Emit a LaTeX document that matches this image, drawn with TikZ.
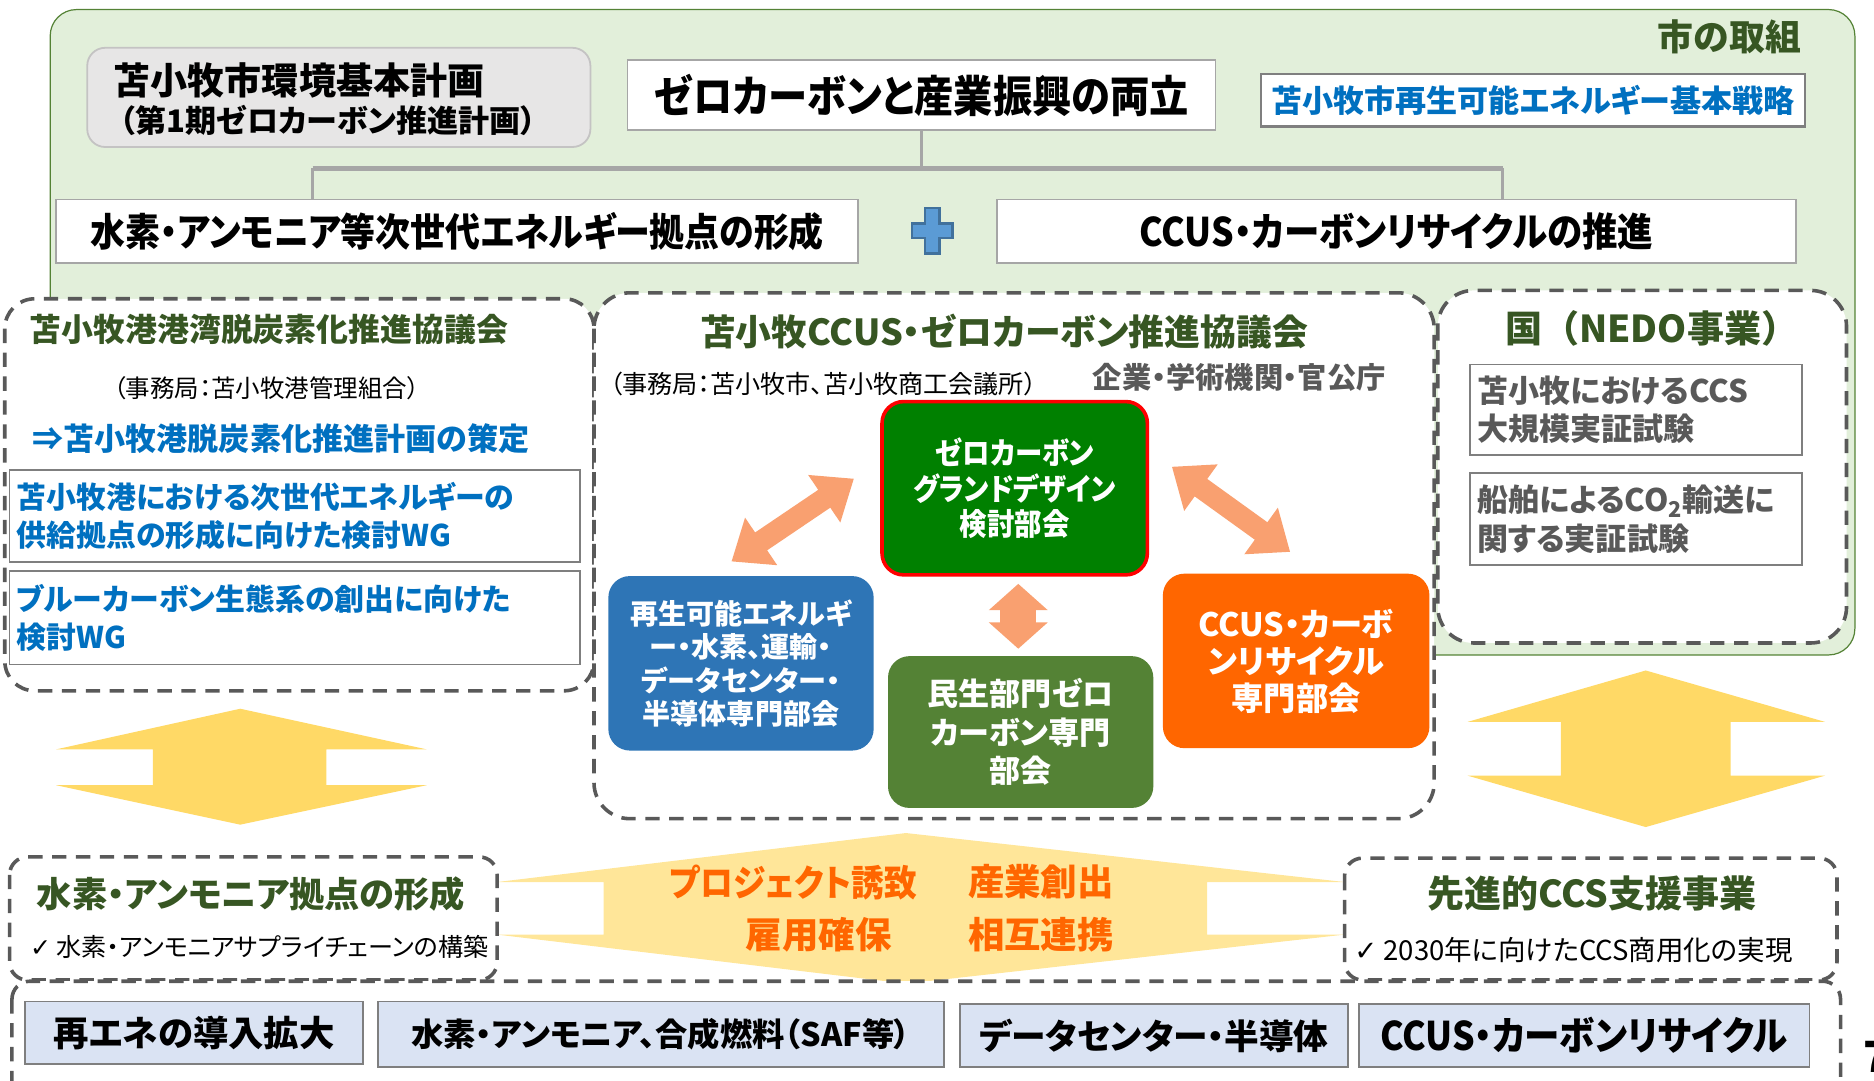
\documentclass[tikz,border=0pt]{standalone}
\usepackage{fontspec}
\setmainfont{Noto Sans CJK JP}[RawFeature=+palt]
\newfontfamily\jpw{Noto Sans CJK JP}
\newfontfamily\jpc{Noto Sans CJK JP}[RawFeature=+palt, FakeStretch=0.9]
\newfontfamily\symfont{DejaVu Sans}
\usetikzlibrary{arrows.meta}

\definecolor{bggreen}{HTML}{E2EFDA}
\definecolor{bgline}{HTML}{548235}
\definecolor{titlegreen}{HTML}{375623}
\definecolor{planblue}{HTML}{0070C0}
\definecolor{linegray}{HTML}{A6A6A6}
\definecolor{boxgray}{HTML}{7F7F7F}
\definecolor{dashgray}{HTML}{595959}
\definecolor{plangray}{HTML}{E7E6E6}
\definecolor{plusblue}{HTML}{5B9BD5}
\definecolor{plusline}{HTML}{41719C}
\definecolor{gdgreen}{HTML}{008000}
\definecolor{reblue}{HTML}{2E75B6}
\definecolor{minseigreen}{HTML}{548235}
\definecolor{ccusorange}{HTML}{FF6600}
\definecolor{linkorange}{HTML}{F9A070}
\definecolor{yarrow}{HTML}{FFD966}
\definecolor{ylight}{HTML}{FFE699}
\definecolor{fieldblue}{HTML}{DAE3F3}
\definecolor{textgray}{HTML}{595959}

\newcommand\fsz[2]{\fontsize{#1}{#2}\selectfont}

\tikzset{
  planbox/.style={draw=linegray, line width=1.5pt, fill=white, inner sep=0pt},
  dashbox/.style={draw=dashgray, line width=3pt, dash pattern=on 12pt off 8pt, fill=white, rounded corners=25pt},
  tree/.style={draw=linegray, line width=2.5pt},
  bukai/.style={rounded corners=18pt, text=white, align=center, inner sep=0pt},
  fieldbox/.style={draw=boxgray, line width=1.5pt, fill=fieldblue, inner sep=0pt},
  linkarrow/.style={draw=linkorange, line width=18pt, arrows={Triangle[width=46pt,length=30pt]-Triangle[width=46pt,length=30pt]}},
}

\begin{document}
\begin{tikzpicture}[x=1pt,y=-1pt]
\useasboundingbox (0,0) rectangle (1568,904);
\clip (0,0) rectangle (1568,904);

% city frame
\draw[fill=bggreen, draw=bgline, line width=1pt, rounded corners=22pt] (42,8) rectangle (1552,548);
\node[text=titlegreen, font=\bfseries\fsz{30}{36}] (torikumi) at (1447,31) {市の取組};

% plans
\node[draw=plangray!85!black, fill=plangray, line width=1.5pt, rounded corners=15pt, minimum width=421pt, minimum height=83pt] (kankyo) at (283.5,81.5) {};
\node[anchor=west, inner sep=0pt, font=\bfseries\fsz{31}{36}] (kankyoA) at (95,67) {苫小牧市環境基本計画};
\node[anchor=west, inner sep=0pt, font=\bfseries\fsz{26}{30}] (kankyoB) at (100,101) {（第1期ゼロカーボン推進計画）};
\node[planbox, minimum width=492pt, minimum height=59pt, font=\jpc\bfseries\fsz{36.5}{42}] (zc) at (771,79.5) {ゼロカーボンと産業振興の両立};
\node[planbox, draw=boxgray, line width=2pt, minimum width=455pt, minimum height=44pt, text=planblue, font=\bfseries\fsz{26}{32}] (senryaku) at (1282.5,84) {苫小牧市再生可能エネルギー基本戦略};

\node[planbox, minimum width=671pt, minimum height=53pt, font=\jpc\bfseries\fsz{32.5}{38}] (h2) at (382.5,193.5) {水素・アンモニア等次世代エネルギー拠点の形成};
\node[planbox, minimum width=669pt, minimum height=53pt, font=\jpc\bfseries\fsz{33}{38}] (ccus) at (1168.5,193.5) {CCUS・カーボンリサイクルの推進};

% tree
\coordinate (j) at ([yshift=-31pt]zc.south);
\coordinate (h2top) at ([xshift=-121pt]h2.north);
\coordinate (ccustop) at ([xshift=89pt]ccus.north);
\draw[tree] (zc.south) -- (j);
\draw[tree, line width=4pt] (h2top |- j) -- (ccustop |- j);
\draw[tree] (h2top |- j) -- (h2top);
\draw[tree] (ccustop |- j) -- (ccustop);

% plus
\draw[fill=plusblue, draw=plusline, line width=2pt] (774,174) -- (786,174) -- (786,187) -- (797,187) -- (797,199) -- (786,199) -- (786,212) -- (774,212) -- (774,199) -- (763,199) -- (763,187) -- (774,187) -- cycle;

% port council
\draw[dashbox] (4,250) rectangle (497,578);
\node[text=titlegreen, font=\bfseries\fsz{26.7}{32}] (kowan) at (225,276) {苫小牧港港湾脱炭素化推進協議会};
\node[font=\fsz{20.5}{24}] (kowanJ) at (223,325) {（事務局：苫小牧港管理組合）};
\node[anchor=west, inner sep=0pt, text=planblue, font=\bfseries\fsz{26}{30}] (kowanP) at (27,367) {⇒苫小牧港脱炭素化推進計画の策定};
\node[planbox, draw=boxgray, minimum width=477pt, minimum height=77pt, text width=465pt, align=left, text=planblue, font=\bfseries\fsz{25}{32}] (wgA) at (246.5,431.5) {苫小牧港における次世代エネルギーの\\供給拠点の形成に向けた検討WG};
\node[planbox, draw=boxgray, minimum width=477pt, minimum height=78pt, text width=465pt, align=left, text=planblue, font=\bfseries\fsz{25}{32}] (wgB) at (246.5,517) {ブルーカーボン生態系の創出に向けた\\検討WG};

% ccus council
\draw[dashbox, rounded corners=30pt] (497,245) rectangle (1200,685);
\node[text=titlegreen, font=\bfseries\fsz{30}{36}] (ccusT) at (840,277) {苫小牧CCUS・ゼロカーボン推進協議会};
\node[anchor=west, inner sep=0pt, font=\fsz{21}{24}] (ccusJ) at (510,321) {（事務局：苫小牧市、苫小牧商工会議所）};
\node[text=textgray, font=\bfseries\fsz{24.5}{28}] (kigyo) at (1037,316) {企業・学術機関・官公庁};

\node[bukai, fill=gdgreen, draw=red, line width=3pt, minimum width=222pt, minimum height=145pt, font=\jpc\bfseries\fsz{25.5}{30}] (gd) at (849,408.5) {ゼロカーボン\\グランドデザイン\\検討部会};
\node[bukai, fill=reblue, minimum width=222pt, minimum height=146pt, font=\bfseries\fsz{23.5}{28}] (saiene) at (620,555) {再生可能エネルギ\\ー・水素、運輸・\\データセンター・\\半導体専門部会};
\node[bukai, fill=minseigreen, minimum width=222pt, minimum height=127pt, font=\bfseries\fsz{26}{32}] (minsei) at (854,612.5) {民生部門ゼロ\\カーボン専門\\部会};
\node[bukai, fill=ccusorange, minimum width=223pt, minimum height=146pt, font=\bfseries\fsz{27}{31}] (ccusbu) at (1084.5,553) {CCUS・カーボ\\ンリサイクル\\専門部会};

\draw[linkarrow] ([shift={(-22pt,8pt)}]gd.west) -- ([shift={(-8pt,12pt)}]saiene.north);
\draw[linkarrow] ([shift={(19pt,18pt)}]gd.east) -- ([shift={(-5pt,18pt)}]ccusbu.north);
\draw[linkarrow, line width=30pt, arrows={Triangle[width=48pt,length=22pt]-Triangle[width=48pt,length=22pt]}] ([shift={(3pt,-6pt)}]gd.south) -- ([shift={(-2pt,6pt)}]minsei.north);

% nedo
\draw[dashbox, rounded corners=30pt] (1203,243) rectangle (1545,538);
\node[text=titlegreen, font=\jpw\bfseries\fsz{31}{36}] (nedo) at (1382,275) {国（NEDO事業）};
\node[planbox, draw=boxgray, minimum width=278pt, minimum height=76pt, text width=266pt, align=left, text=textgray, font=\bfseries\fsz{26}{32}] (nedoA) at (1369,343) {苫小牧におけるCCS\\大規模実証試験};
\node[planbox, draw=boxgray, minimum width=278pt, minimum height=77pt, text width=266pt, align=left, text=textgray, font=\bfseries\fsz{26}{32}] (nedoB) at (1369,434.5) {船舶によるCO\textsubscript{2}輸送に\\関する実証試験};

% yellow arrows
\fill[yarrow] (201,593) -- (357,627) -- (273,627) -- (273,657) -- (357,657) -- (201,690) -- (47,657) -- (128,657) -- (128,627) -- (47,627) -- cycle;
\fill[yarrow] (1377,561) -- (1527,604) -- (1448,604) -- (1448,649) -- (1527,649) -- (1377,692) -- (1228,649) -- (1306,649) -- (1306,604) -- (1228,604) -- cycle;
\fill[ylight] (758,697) -- (1125,738) -- (1010,738) -- (1010,782) -- (1125,782) -- (758,823) -- (416,782) -- (505,782) -- (505,738) -- (416,738) -- cycle;
\node[text=ccusorange, font=\jpc\bfseries\fsz{30.5}{34}] (yuchi) at (664,738) {プロジェクト誘致};
\node[text=ccusorange, font=\bfseries\fsz{30.5}{34}] (sosyutsu) at (871,738) {産業創出};
\node[text=ccusorange, font=\bfseries\fsz{30.5}{34}] (koyo) at (685,782) {雇用確保};
\node[text=ccusorange, font=\bfseries\fsz{30.5}{34}] (renkei) at (871,782) {相互連携};

% projects
\draw[dashbox, rounded corners=15pt] (8,717) rectangle (416,820);
\node[text=titlegreen, font=\bfseries\fsz{29.5}{34}] (h2kyoten) at (210,748) {水素・アンモニア拠点の形成};
\node[anchor=west, inner sep=0pt, font=\fsz{21}{26}] (h2sc) at (25,792) {{\symfont ✓} 水素・アンモニアサプライチェーンの構築};
\draw[dashbox, rounded corners=15pt] (1125,718) rectangle (1537,820);
\node[text=titlegreen, font=\bfseries\fsz{31}{36}] (ccsshien) at (1332,748) {先進的CCS支援事業};
\node[anchor=west, inner sep=0pt, font=\fsz{23}{26}] (ccs2030) at (1133,795) {{\symfont ✓} 2030年に向けたCCS商用化の実現};

% fields
\draw[dashbox, rounded corners=15pt] (10,821) rectangle (1540,940);
\node[fieldbox, minimum width=283pt, minimum height=52pt, font=\bfseries\fsz{29.6}{34}] (fA) at (162.5,864) {再エネの導入拡大};
\node[fieldbox, minimum width=474pt, minimum height=55pt, font=\bfseries\fsz{27}{32}] (fB) at (553,865.5) {水素・アンモニア、合成燃料（SAF等）};
\node[fieldbox, minimum width=325pt, minimum height=53pt, font=\bfseries\fsz{29}{34}] (fC) at (965.5,866.5) {データセンター・半導体};
\node[fieldbox, minimum width=377pt, minimum height=53pt, font=\jpc\bfseries\fsz{33}{38}] (fD) at (1325.5,866.5) {CCUS・カーボンリサイクル};
\node[anchor=west, inner sep=0pt, font=\bfseries\fsz{36}{40}] (page) at (1559,884) {7};
\end{tikzpicture}
\end{document}
